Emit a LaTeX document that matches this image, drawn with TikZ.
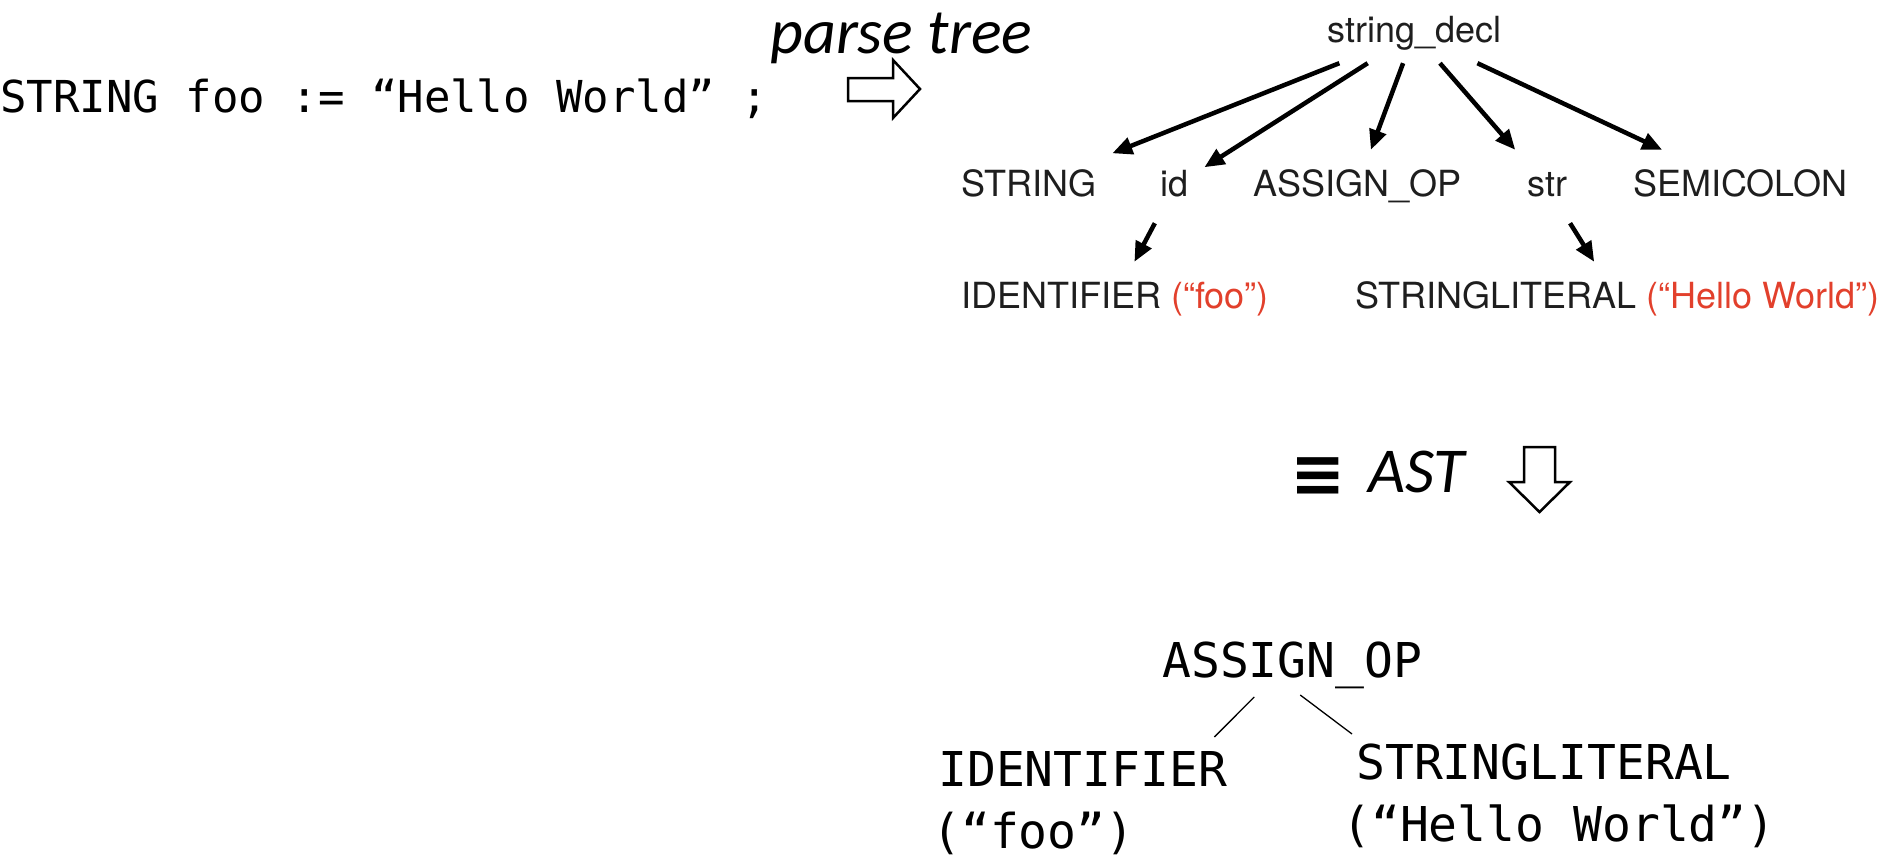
\documentclass[tikz,border=0pt]{standalone}
\usepackage{fontspec}
\usetikzlibrary{arrows.meta,calc}
\newfontfamily\codefont{DejaVu Sans Mono}
\newfontfamily\treefont{TeX Gyre Heros}
\newfontfamily\slidefont{Carlito}
\newfontfamily\symfont{DejaVu Sans}
\definecolor{tokred}{RGB}{226,64,44}
\definecolor{treegray}{RGB}{30,30,30}

\tikzset{
  code/.style={font=\codefont\fontsize{44}{52}\selectfont, inner sep=0pt, anchor=base west},
  astlabel/.style={font=\codefont\fontsize{48}{58}\selectfont, inner sep=0pt, anchor=base west},
  slide/.style={font=\slidefont\itshape\fontsize{64}{76}\selectfont, inner sep=0pt, anchor=base west},
  ptnode/.style={font=\treefont\fontsize{36}{42}\selectfont, text=treegray,
    text height=26pt, text depth=7pt, inner xsep=16pt, inner ysep=20pt, anchor=base west},
  ptedge/.style={-{Triangle[length=20pt,width=17pt]}, line width=4.5pt},
  astedge/.style={line width=1.3pt},
  hollow/.style={draw=black, line width=2.5pt, fill=white, line join=miter},
}

\begin{document}
\begin{tikzpicture}[x=1pt,y=-1pt]
  \useasboundingbox (0,0) rectangle (1895,859);

  % source line and the step to the parse tree
  \node[code] (src) at (0,112) {STRING foo := “Hello World” ;};
  \node[slide] (ptlabel) at (770,53) {parse tree};
  \draw[hollow] (848,78) -- (893,78) -- (893,60) -- (920,89) -- (893,118)
    -- (893,101) -- (848,101) -- cycle;

  % parse tree
  \node[ptnode, inner ysep=13pt] (sd) at (1311,43) {string\_decl};
  \node[ptnode] (tSTRING) at (945,196) {STRING};
  \node[ptnode] (tid) at (1144,196) {id};
  \node[ptnode] (tassign) at (1237,196) {ASSIGN\_OP};
  \node[ptnode] (tstr) at (1511,196) {str};
  \node[ptnode] (tsemi) at (1617,196) {SEMICOLON};
  \node[ptnode] (tident) at (945,308) {IDENTIFIER {\color{tokred}(“foo”)}};
  \node[ptnode] (tlit) at (1339,308) {STRINGLITERAL {\color{tokred}(“Hello World”)}};

  \draw[ptedge] (sd) -- (tSTRING);
  \draw[ptedge] (sd) -- (tid);
  \draw[ptedge] (sd) -- (tassign);
  \draw[ptedge] (sd) -- (tstr);
  \draw[ptedge] (sd) -- (tsemi);
  \draw[ptedge] (tid) -- (tident);
  \draw[ptedge] (tstr) -- (tlit);

  % equivalence to the AST
  \node[font=\symfont\bfseries\fontsize{66}{76}\selectfont, inner sep=0pt, anchor=base] (equiv) at (1318,496) {≡};
  \node[slide] (astlabel) at (1368,492) {AST};
  \draw[hollow] (1524,447) -- (1555,447) -- (1555,482) -- (1570,482) -- (1539.5,512)
    -- (1509,482) -- (1524,482) -- cycle;

  % abstract syntax tree
  \node[astlabel] (asg) at (1162,677) {ASSIGN\_OP};
  \node[astlabel] (idA) at (938,786) {IDENTIFIER};
  \node[astlabel] (idB) at (932,848) {(“foo”)};
  \node[astlabel] (strA) at (1356,779) {STRINGLITERAL};
  \node[astlabel] (strB) at (1342,841) {(“Hello World”)};

  \draw[astedge] ($(asg.base)+(-38,20)$) -- ($(idA.base east)+(-13,-49)$);
  \draw[astedge] ($(asg.base)+(8,18)$) -- ($(strA.base west)+(-4,-45)$);
\end{tikzpicture}
\end{document}
